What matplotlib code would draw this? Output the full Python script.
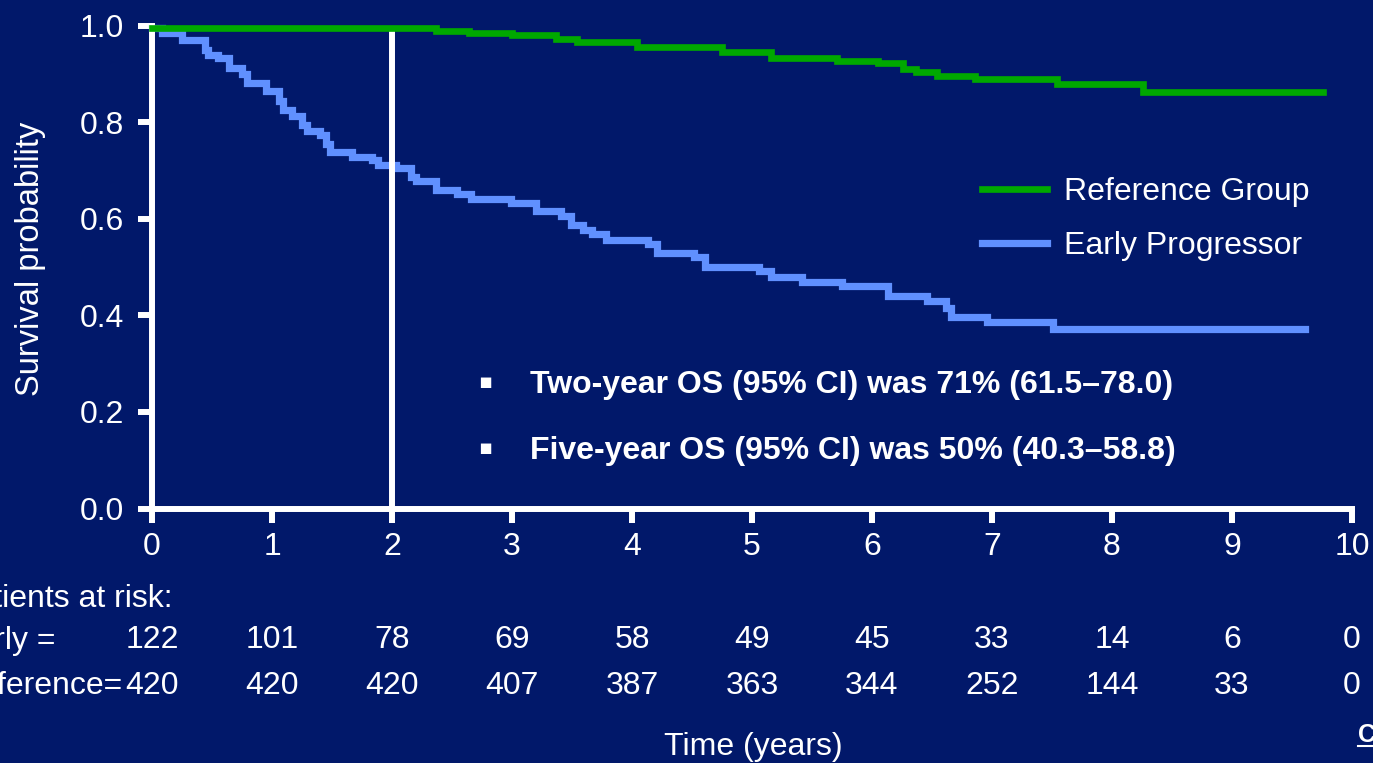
import matplotlib
matplotlib.use("Agg")
import matplotlib.pyplot as plt
from matplotlib.transforms import blended_transform_factory
from matplotlib.lines import Line2D

plt.rcParams['font.family'] = ['Liberation Sans', 'DejaVu Sans']

# ---------------- data ----------------
ref_label = "Reference Group"
early_label = "Early Progressor"

# Reference group KM steps (time in years, survival after step)
ref_times = [0.00, 2.37, 2.64, 3.00, 3.37, 3.54, 4.04, 4.75, 5.16, 5.71, 6.05, 6.26, 6.37, 6.54, 6.86, 7.54, 8.26]
ref_surv = [0.994, 0.988, 0.984, 0.980, 0.973, 0.966, 0.955, 0.945, 0.933, 0.926, 0.922, 0.909, 0.903, 0.895, 0.890, 0.878, 0.863]
ref_end = 9.76

# Early progressor KM steps
early_times = [0.00, 0.08, 0.25, 0.44, 0.47, 0.55, 0.64, 0.75, 0.79, 0.95, 1.06, 1.09, 1.17, 1.25,
               1.29, 1.40, 1.45, 1.48, 1.67, 1.83, 1.88, 2.03, 2.16, 2.20, 2.37, 2.54, 2.66, 2.99,
               3.20, 3.41, 3.49, 3.59, 3.67, 3.78, 4.13, 4.21, 4.52, 4.61, 5.06, 5.16, 5.42, 5.75,
               6.13, 6.46, 6.62, 6.66, 6.96, 7.51]
early_surv = [0.994, 0.984, 0.969, 0.949, 0.938, 0.932, 0.913, 0.899, 0.880, 0.864, 0.844, 0.825, 0.812, 0.794,
              0.781, 0.773, 0.754, 0.738, 0.727, 0.721, 0.711, 0.704, 0.687, 0.678, 0.659, 0.651, 0.641, 0.632,
              0.616, 0.606, 0.587, 0.577, 0.568, 0.556, 0.547, 0.529, 0.521, 0.500, 0.492, 0.480, 0.469, 0.461,
              0.439, 0.430, 0.415, 0.397, 0.387, 0.372]
early_end = 9.61

landmark_year = 2

x_ticks = [0, 1, 2, 3, 4, 5, 6, 7, 8, 9, 10]
y_ticks = [0.0, 0.2, 0.4, 0.6, 0.8, 1.0]

risk_times = [0, 1, 2, 3, 4, 5, 6, 7, 8, 9, 10]
early_at_risk = [122, 101, 78, 69, 58, 49, 45, 33, 14, 6, 0]
ref_at_risk = [420, 420, 420, 407, 387, 363, 344, 252, 144, 33, 0]

bullet_lines = ["Two-year OS (95% CI) was 71% (61.5\u201378.0)",
                "Five-year OS (95% CI) was 50% (40.3\u201358.8)"]

# ---------------- style ----------------
BG = '#01186A'
GREEN = '#00A800'
BLUE = '#6090FF'
WHITE = 'white'
W, H = 1373, 763
FS = 23

fig = plt.figure(figsize=(W / 100, H / 100), dpi=100)
fig.patch.set_facecolor(BG)
ax = fig.add_axes([152 / W, 1 - 508.5 / H, 1200 / W, 483 / H])
ax.set_facecolor(BG)

# curves
blue_line, = ax.step(early_times + [early_end], early_surv + [early_surv[-1]], where='post',
                     color=BLUE, lw=5.2, zorder=2, clip_on=False, solid_joinstyle='miter')
ax.axvline(landmark_year, ymin=0, ymax=0.99, color=WHITE, lw=4.3, zorder=3)
green_line, = ax.step(ref_times + [ref_end], ref_surv + [ref_surv[-1]], where='post',
                      color=GREEN, lw=4.8, zorder=4, clip_on=False, solid_joinstyle='miter')

ax.set_xlim(0, 10)
ax.set_ylim(0, 1)
for s in ['top', 'right']:
    ax.spines[s].set_visible(False)
for s in ['left', 'bottom']:
    ax.spines[s].set_color(WHITE)
    ax.spines[s].set_linewidth(4.3)
    ax.spines[s].set_capstyle('projecting')

ax.set_xticks(x_ticks)
ax.set_xticklabels([str(v) for v in x_ticks])
ax.set_yticks(y_ticks)
ax.set_yticklabels([f"{v:.1f}" for v in y_ticks])
ax.tick_params(axis='both', direction='out', length=10, width=4.3, color=WHITE,
               labelcolor=WHITE, labelsize=FS)
ax.tick_params(axis='x', pad=7)
ax.tick_params(axis='y', pad=10)

# y label
fig.text(31 / W, 1 - 259 / H, "Survival probability", rotation=90, ha='center', va='center',
         color=WHITE, fontsize=FS + 0.5)

# legend
ax.legend(handles=[green_line, blue_line], labels=[ref_label, early_label],
          loc='upper left', bbox_to_anchor=(982 / W, 1 - 177 / H), bbox_transform=fig.transFigure,
          frameon=False, fontsize=FS, labelcolor=WHITE, handlelength=2.03, handletextpad=0.55,
          labelspacing=0.76, borderpad=0, borderaxespad=0)

# bullet statements
for line, base_y, by in zip(bullet_lines, [393, 459], [382, 448]):
    fig.text(530 / W, 1 - base_y / H, line, ha='left', va='baseline', color=WHITE,
             fontsize=FS, fontweight='bold')
    fig.text(485 / W, 1 - by / H, "\u25AA", ha='center', va='center', color=WHITE,
             fontsize=15, family=['DejaVu Sans'])

# at-risk table
trans = blended_transform_factory(ax.transData, fig.transFigure)
fig.text(173 / W, 1 - 607 / H, "Patients at risk:", ha='right', va='baseline', color=WHITE, fontsize=FS)
fig.text(56 / W, 1 - 649 / H, "Early =", ha='right', va='baseline', color=WHITE, fontsize=FS)
fig.text(123 / W, 1 - 694 / H, "Reference=", ha='right', va='baseline', color=WHITE, fontsize=FS)
for t, e, r in zip(risk_times, early_at_risk, ref_at_risk):
    ax.text(t, 1 - 648 / H, str(e), transform=trans, ha='center', va='baseline', color=WHITE,
            fontsize=FS, clip_on=False)
    ax.text(t, 1 - 694 / H, str(r), transform=trans, ha='center', va='baseline', color=WHITE,
            fontsize=FS, clip_on=False)

# x label
fig.text(753 / W, 1 - 755 / H, "Time (years)", ha='center', va='baseline', color=WHITE, fontsize=FS)

# cut-off underlined reference link at bottom right
fig.text(1358 / W, 1 - 742 / H, "C", ha='left', va='baseline', color=WHITE, fontsize=18,
         fontweight='bold')
fig.add_artist(Line2D([1358 / W, 1.0], [1 - 746 / H, 1 - 746 / H], transform=fig.transFigure,
                      color=WHITE, lw=1.5))

fig.savefig("out.png", dpi=100, facecolor=BG)
